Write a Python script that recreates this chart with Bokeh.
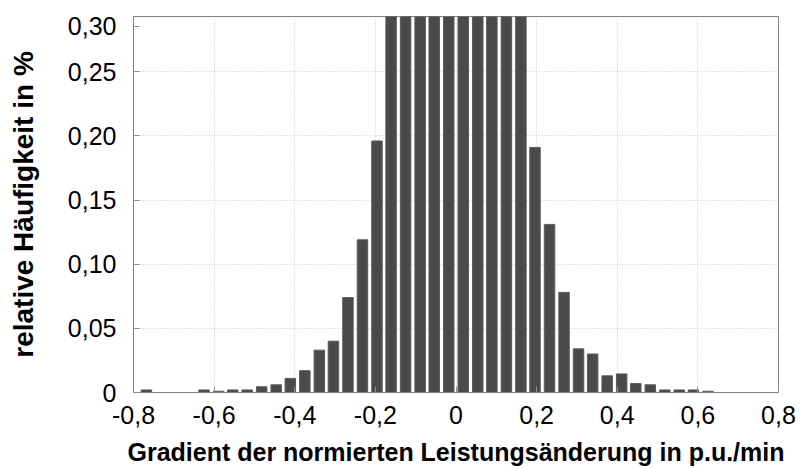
from bokeh.plotting import figure
from bokeh.models import Range1d, FixedTicker, ColumnDataSource
from bokeh.embed import file_html
from bokeh.resources import INLINE

# bin centres (p.u./min) and relative frequency (%)
bin_centers = [-0.768, -0.732, -0.696, -0.661, -0.625, -0.589, -0.554, -0.518,
               -0.482, -0.446, -0.411, -0.375, -0.339, -0.304, -0.268, -0.232,
               -0.196, -0.161, -0.125, -0.089, -0.054, -0.018,
               0.018, 0.054, 0.089, 0.125, 0.161, 0.196, 0.232, 0.268,
               0.304, 0.339, 0.375, 0.411, 0.446, 0.482, 0.518, 0.554,
               0.589, 0.625, 0.661, 0.696, 0.732, 0.768]
frequency = [0.002, 0.0, 0.0, 0.0, 0.002, 0.001, 0.002, 0.002,
             0.0045, 0.006, 0.011, 0.017, 0.033, 0.040, 0.074, 0.119,
             0.196, 0.33, 0.52, 0.78, 1.05, 1.25,
             1.22, 1.00, 0.74, 0.49, 0.31, 0.191, 0.131, 0.078,
             0.034, 0.030, 0.013, 0.0145, 0.007, 0.006, 0.002, 0.002,
             0.002, 0.001, 0.0, 0.0, 0.0, 0.0]

x_ticks = [-0.8, -0.6, -0.4, -0.2, 0.0, 0.2, 0.4, 0.6, 0.8]
x_tick_labels = ["-0,8", "-0,6", "-0,4", "-0,2", "0", "0,2", "0,4", "0,6", "0,8"]
y_ticks = [0.0, 0.05, 0.10, 0.15, 0.20, 0.25, 0.2855]
y_tick_labels = ["0", "0,05", "0,10", "0,15", "0,20", "0,25", "0,30"]

FONT = "Liberation Sans"

p = figure(width=807, height=468, output_backend="svg", toolbar_location=None,
           x_range=Range1d(-0.8, 0.8), y_range=Range1d(0, 0.293),
           min_border_left=133, min_border_right=29, min_border_top=16,
           min_border_bottom=76)

src = ColumnDataSource(dict(x=bin_centers, top=frequency))
p.vbar(x="x", top="top", bottom=0, width=0.026, source=src,
       fill_color="#4a4a4a", line_color="#5c5c5c", line_width=1)

p.outline_line_color = "#808080"
p.outline_line_width = 1

# axes
p.xaxis.ticker = FixedTicker(ticks=x_ticks)
p.xaxis.major_label_overrides = {t: l for t, l in zip(x_ticks, x_tick_labels)}
p.yaxis.ticker = FixedTicker(ticks=y_ticks)
p.yaxis.major_label_overrides = {t: l for t, l in zip(y_ticks, y_tick_labels)}

for ax in (p.xaxis[0], p.yaxis[0]):
    ax.major_tick_in = 6
    ax.major_tick_out = 0
    ax.minor_tick_in = 0
    ax.minor_tick_out = 0
    ax.major_tick_line_color = "#909090"
    ax.axis_line_color = "#808080"
    ax.major_label_text_font = FONT
    ax.major_label_text_color = "black"
    ax.axis_label_text_font = FONT
    ax.axis_label_text_font_style = "bold"
    ax.axis_label_text_color = "black"

p.xaxis.major_label_text_font_size = "25px"
p.yaxis.major_label_text_font_size = "25px"
p.xaxis.major_label_standoff = 13
p.yaxis.major_label_standoff = 17
p.xaxis.axis_label = "Gradient der normierten Leistungsänderung in p.u./min"
p.yaxis.axis_label = "relative Häufigkeit in %"
p.xaxis.axis_label_text_font_size = "25px"
p.yaxis.axis_label_text_font_size = "28px"
p.xaxis.axis_label_standoff = 11
p.yaxis.axis_label_standoff = 26

# grid
p.xgrid.ticker = FixedTicker(ticks=[-0.6, -0.4, -0.2, 0.0, 0.2, 0.4, 0.6])
p.ygrid.ticker = FixedTicker(ticks=[0.05, 0.10, 0.15, 0.20, 0.25])
for g in (p.xgrid[0], p.ygrid[0]):
    g.grid_line_color = "#c8c8c8"
    g.grid_line_dash = "1 2"
    g.grid_line_width = 1

p.background_fill_color = "white"
p.border_fill_color = "white"

open("out.html", "w").write(file_html(p, INLINE))
